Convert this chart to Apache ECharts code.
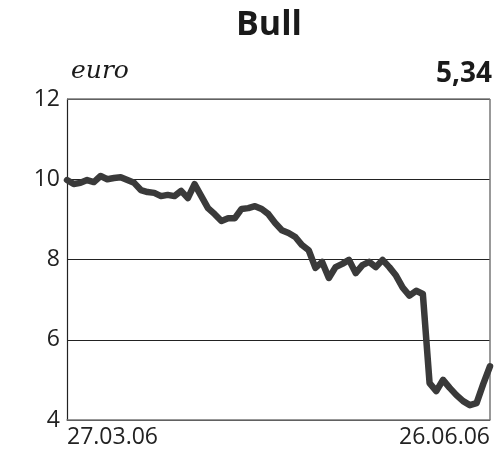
<!DOCTYPE html>
<html><head><meta charset="utf-8">
<script src="https://cdn.jsdelivr.net/npm/echarts@6/dist/echarts.min.js"></script>
<style>html,body{margin:0;padding:0;background:#fff}#c{width:499px;height:471px}</style>
</head><body><div id="c"></div>
<script>
const title = 'Bull';
const unit = 'euro';
const lastValue = '5,34';
const dateLabels = ['27.03.06', '26.06.06'];
const yTicks = [4, 6, 8, 10, 12];
const prices = [
  9.98, 9.88, 9.91, 9.98, 9.93, 10.08, 10.00, 10.03, 10.05, 9.98,
  9.91, 9.73, 9.68, 9.66, 9.58, 9.61, 9.58, 9.71, 9.53, 9.88,
  9.58, 9.28, 9.13, 8.96, 9.03, 9.03, 9.26, 9.28, 9.33, 9.26,
  9.13, 8.91, 8.73, 8.66, 8.56, 8.36, 8.23, 7.79, 7.94, 7.54,
  7.81, 7.89, 7.99, 7.66, 7.86, 7.94, 7.81, 7.99, 7.81, 7.60,
  7.30, 7.10, 7.22, 7.14, 4.92, 4.72, 5.00, 4.80, 4.62, 4.47,
  4.37, 4.42, 4.90, 5.34
];
const n = prices.length - 1;
const chart = echarts.init(document.getElementById('c'), null, {renderer: 'canvas'});
chart.setOption({
  animation: false,
  title: [
    {text: title, left: 236, top: 8, padding: 0, textStyle: {fontFamily: 'Open Sans', fontWeight: 'bold', fontSize: 34, color: '#1a1a1a'}},
    {text: unit, left: 71, top: 59, padding: 0, textStyle: {fontFamily: 'DejaVu Serif', fontStyle: 'italic', fontWeight: 'normal', fontSize: 25, color: '#1a1a1a'}},
    {text: lastValue, right: 7, top: 60, padding: 0, textStyle: {fontFamily: 'Open Sans', fontWeight: 'bold', fontSize: 28, color: '#1a1a1a'}}
  ],
  grid: {left: 67, right: 9, top: 99, bottom: 51},
  xAxis: {
    type: 'value', min: 0, max: n, interval: n,
    axisLine: {show: true, onZero: false, lineStyle: {color: '#777', width: 1.5}},
    axisTick: {show: false},
    splitLine: {show: false},
    axisLabel: {
      formatter: v => v === 0 ? dateLabels[0] : (v === n ? dateLabels[1] : ''),
      fontFamily: 'Open Sans', fontSize: 23, color: '#222', margin: 6,
      alignMinLabel: 'left', alignMaxLabel: 'right'
    }
  },
  yAxis: {
    type: 'value', min: yTicks[0], max: yTicks[yTicks.length - 1], interval: 2,
    axisLine: {show: true, lineStyle: {color: '#222', width: 1.2}},
    axisTick: {show: false},
    splitLine: {show: true, lineStyle: {color: '#222', width: 1}},
    axisLabel: {fontFamily: 'Open Sans', fontSize: 23, color: '#222', margin: 7}
  },
  graphic: [
    {type: 'line', shape: {x1: 67, y1: 99, x2: 490, y2: 99}, style: {stroke: '#777', lineWidth: 1.5}, z: 1},
    {type: 'line', shape: {x1: 490, y1: 99, x2: 490, y2: 420}, style: {stroke: '#777', lineWidth: 1.5}, z: 1}
  ],
  series: [{
    type: 'line',
    data: prices.map((v, i) => [i, v]),
    symbol: 'none',
    lineStyle: {color: '#3a3a3a', width: 6.5, join: 'round', cap: 'round'},
    z: 5
  }]
});
</script></body></html>
